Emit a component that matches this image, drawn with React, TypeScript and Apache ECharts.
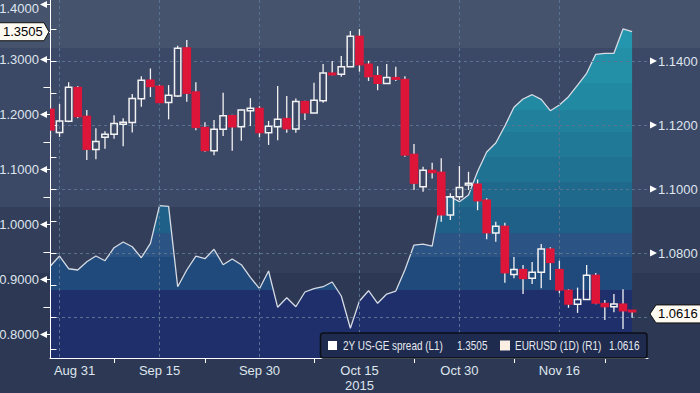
import React, { useEffect, useRef } from 'react';
import * as echarts from 'echarts';

// Business-day index 0 = Aug 28 2015, 1 = Aug 31, ... 64 = Nov 26
const xLabelIdx = [1, 12, 23, 34, 45, 56];
const xLabelText = ['Aug 31', 'Sep 15', 'Sep 30', 'Oct 15', 'Oct 30', 'Nov 16'];
const xMinorTickIdx = [7, 17, 29, 40, 51, 61];
const yearLabel = '2015';

// 2Y US-GE spread (L1)
const spread = [
  0.9245, 0.9427, 0.9196, 0.9173, 0.9324, 0.9427, 0.9342, 0.9578, 0.9682, 0.9596,
  0.9396, 0.9658, 1.0342, 1.0331, 0.8869, 0.9173, 0.9427, 0.9378, 0.9549, 0.9269,
  0.9373, 0.9269, 0.9040, 0.8833, 0.9155, 0.8495, 0.8669, 0.8505, 0.8773, 0.8836,
  0.8869, 0.8955, 0.8700, 0.8113, 0.8609, 0.8796, 0.8567, 0.8736, 0.8791, 0.9173,
  0.9627, 0.9645, 0.9609, 1.0495, 1.0505, 1.0415, 1.0536, 1.0964, 1.1318, 1.1482,
  1.1791, 1.2131, 1.2282, 1.2360, 1.2276, 1.2069, 1.2173, 1.2324, 1.2536, 1.2749,
  1.3095, 1.3113, 1.3113, 1.3555, 1.3505,
];

// EURUSD (1D) (R1)
const eurOpen = [
  1.1250, 1.1177, 1.1212, 1.1318, 1.1228, 1.1124, 1.1162, 1.1171, 1.1203, 1.1208,
  1.1282, 1.1341, 1.1322, 1.1271, 1.1291, 1.1442, 1.1304, 1.1193, 1.1120, 1.1187,
  1.1230, 1.1195, 1.1245, 1.1253, 1.1176, 1.1195, 1.1221, 1.1188, 1.1274, 1.1238,
  1.1276, 1.1363, 1.1359, 1.1382, 1.1478, 1.1391, 1.1355, 1.1330, 1.1349, 1.1343,
  1.1109, 1.1007, 1.1059, 1.1053, 1.0919, 1.0976, 1.1013, 1.1016, 1.0966, 1.0863,
  1.0884, 1.0733, 1.0749, 1.0721, 1.0740, 1.0813, 1.0749, 1.0684, 1.0640, 1.0655,
  1.0731, 1.0643, 1.0632, 1.0641, 1.0622,
];
const eurClose = [
  1.1184, 1.1213, 1.1318, 1.1226, 1.1124, 1.1149, 1.1171, 1.1205, 1.1209, 1.1283,
  1.1340, 1.1320, 1.1270, 1.1293, 1.1440, 1.1299, 1.1192, 1.1120, 1.1187, 1.1229,
  1.1194, 1.1247, 1.1253, 1.1176, 1.1196, 1.1218, 1.1188, 1.1274, 1.1238, 1.1278,
  1.1363, 1.1359, 1.1382, 1.1478, 1.1388, 1.1351, 1.1330, 1.1349, 1.1343, 1.1106,
  1.1018, 1.1059, 1.1051, 1.0919, 1.0976, 1.1005, 1.1018, 1.0963, 1.0863, 1.0884,
  1.0738, 1.0749, 1.0720, 1.0740, 1.0813, 1.0770, 1.0684, 1.0640, 1.0655, 1.0731,
  1.0643, 1.0632, 1.0641, 1.0619, 1.0616,
];
const eurLow = [
  1.1163, 1.1163, 1.1209, 1.1221, 1.1091, 1.1093, 1.1126, 1.1157, 1.1134, 1.1177,
  1.1257, 1.1288, 1.1270, 1.1218, 1.1288, 1.1273, 1.1184, 1.1117, 1.1106, 1.1166,
  1.1120, 1.1151, 1.1197, 1.1162, 1.1138, 1.1153, 1.1176, 1.1176, 1.1216, 1.1238,
  1.1270, 1.1356, 1.1351, 1.1382, 1.1367, 1.1338, 1.1309, 1.1330, 1.1338, 1.1101,
  1.0997, 1.0992, 1.1033, 1.0898, 1.0903, 1.0966, 1.0997, 1.0934, 1.0843, 1.0835,
  1.0707, 1.0721, 1.0672, 1.0703, 1.0690, 1.0716, 1.0674, 1.0629, 1.0613, 1.0655,
  1.0640, 1.0591, 1.0615, 1.0563, 1.0598,
];
const eurHigh = [
  1.1313, 1.1266, 1.1334, 1.1322, 1.1247, 1.1190, 1.1181, 1.1231, 1.1221, 1.1297,
  1.1353, 1.1377, 1.1325, 1.1325, 1.1448, 1.1466, 1.1334, 1.1209, 1.1216, 1.1301,
  1.1232, 1.1249, 1.1284, 1.1259, 1.1213, 1.1322, 1.1291, 1.1283, 1.1276, 1.1332,
  1.1391, 1.1400, 1.1416, 1.1494, 1.1500, 1.1401, 1.1384, 1.1391, 1.1382, 1.1353,
  1.1141, 1.1070, 1.1082, 1.1096, 1.0987, 1.1072, 1.1054, 1.1030, 1.0971, 1.0898,
  1.0895, 1.0788, 1.0763, 1.0772, 1.0828, 1.0818, 1.0776, 1.0687, 1.0692, 1.0763,
  1.0738, 1.0653, 1.0672, 1.0687, 1.0622,
];

const leftLabelVals = [0.8, 0.9, 1.0, 1.1, 1.2, 1.3, 1.4];
const leftTickVals = [0.8, 0.85, 0.9, 0.95, 1.0, 1.05, 1.1, 1.15, 1.2, 1.25, 1.3, 1.35, 1.4];
const rightLabelVals = [1.08, 1.1, 1.12, 1.14];
const rightTickVals = [1.05, 1.06, 1.07, 1.08, 1.09, 1.1, 1.11, 1.12, 1.13, 1.14, 1.15];
const gridVals = [1.06, 1.08, 1.1, 1.12, 1.14];

const spreadName = '2Y US-GE spread (L1)';
const eurName = 'EURUSD (1D) (R1)';
const spreadLast = 1.3505;
const eurLast = 1.0616;

const FONT = "'Liberation Sans', Arial, sans-serif";
const LABEL = '#dfe5ee';
const RED = '#dd1539';
const WHITE = '#f2f2f2';

export default function App() {
  const ref = useRef<HTMLDivElement>(null);
  useEffect(() => {
    if (!ref.current) return;
    const chart = echarts.init(ref.current, null, { renderer: 'svg' });
    const xMin = -0.05;
    const xMax = 65.75;
    const areaStops: [number, string][] = [
      [0, '#2497ae'], [48, '#2390a8'], [83, '#2289a2'], [110, '#21819c'], [132, '#207a97'],
      [157, '#1f7291'], [182, '#1f6a8c'], [207, '#1f6088'], [233, '#2b5484'], [257, '#1f4a7b'],
      [290, '#1e2f6b'], [358, '#1e2f6b'],
    ];
    const colorStops: { offset: number; color: string }[] = [];
    for (let k = 0; k < areaStops.length - 1; k++) {
      colorStops.push({ offset: areaStops[k][0] / 358, color: areaStops[k][1] });
      colorStops.push({ offset: areaStops[k + 1][0] / 358 - 0.0001, color: areaStops[k][1] });
    }
    const candleData = eurOpen.map((o, i) => [i, o, eurClose[i], eurLow[i], eurHigh[i]]);
    const xFmt = (v: number) => {
      const k = xLabelIdx.indexOf(Math.round(v));
      if (k < 0) return '';
      if (k === 0) return '{first|' + xLabelText[k] + '}';
      if (xLabelText[k] === 'Oct 15') return xLabelText[k] + '\n' + yearLabel;
      return xLabelText[k];
    };
    chart.setOption({
      animation: false,
      textStyle: { fontFamily: FONT },
      grid: { left: 50, right: 52, top: 0, bottom: 35, containLabel: false, outerBoundsMode: 'none' },
      xAxis: [
        {
          type: 'value', position: 'bottom', min: xMin, max: xMax, z: 2,
          axisLine: { show: true, onZero: false, lineStyle: { color: '#ffffff', width: 1 } },
          axisTick: { show: false, customValues: xLabelIdx },
          axisLabel: {
            customValues: xLabelIdx, formatter: xFmt, color: LABEL, fontSize: 13, margin: 5,
            fontFamily: FONT, lineHeight: 15,
            rich: { first: { padding: [0, 0, 0, 30], fontSize: 13, color: LABEL, fontFamily: FONT } },
          },
          splitLine: { show: true, lineStyle: { color: '#587391', type: [3, 3], width: 1 } },
        },
        {
          type: 'value', position: 'bottom', min: xMin, max: xMax,
          axisLine: { show: false },
          axisTick: { show: true, customValues: xMinorTickIdx, length: 5, lineStyle: { color: '#ffffff' } },
          axisLabel: { show: false },
          splitLine: { show: false },
        },
      ],
      yAxis: [
        {
          type: 'value', position: 'left', min: 0.7573, max: 1.4082, z: 2,
          axisLine: { show: true, lineStyle: { color: '#ffffff', width: 1 } },
          axisTick: { show: true, customValues: leftTickVals, length: 7, lineStyle: { color: '#ffffff' } },
          axisLabel: {
            customValues: leftLabelVals, color: LABEL, fontSize: 13, margin: 11, fontFamily: FONT,
            formatter: (v: number) => (Math.abs(v - 1.4) < 1e-6 ? '{t|' + v.toFixed(4) + '}' : v.toFixed(4)),
            rich: { t: { padding: [8, 0, 0, 0], fontSize: 13, color: LABEL, fontFamily: FONT } },
          },
          splitLine: { show: false },
        },
        {
          type: 'value', position: 'right', min: 1.0472, max: 1.1591, z: 2,
          axisLine: { show: true, lineStyle: { color: '#ffffff', width: 1 } },
          axisTick: { show: true, customValues: rightTickVals, length: 6, lineStyle: { color: '#ffffff' } },
          axisLabel: {
            customValues: rightLabelVals, color: LABEL, fontSize: 13, margin: 10, fontFamily: FONT,
            formatter: (v: number) => v.toFixed(4),
          },
          splitLine: { show: false },
        },
        {
          type: 'value', position: 'right', min: 1.0472, max: 1.1591, z: 2,
          axisLine: { show: false },
          axisTick: { show: false, customValues: gridVals },
          axisLabel: { show: false },
          splitLine: { show: true, lineStyle: { color: '#587391', type: [3, 3], width: 1 } },
        },
      ],
      series: [
        {
          name: spreadName, type: 'line', xAxisIndex: 0, yAxisIndex: 0, z: 1,
          data: spread.map((v, i) => [i, v]),
          symbol: 'none',
          lineStyle: { color: '#d6dbe4', width: 1.3 },
          areaStyle: { opacity: 1, color: new echarts.graphic.LinearGradient(0, 0, 0, 358, colorStops, true) },
        },
        {
          name: eurName, type: 'custom', xAxisIndex: 0, yAxisIndex: 1, z: 3, clip: true,
          encode: { x: 0, y: [1, 2, 3, 4] },
          data: candleData,
          renderItem: (_p: any, api: any) => {
            const i = api.value(0);
            const o = api.value(1);
            const c = api.value(2);
            const l = api.value(3);
            const h = api.value(4);
            const pO = api.coord([i, o]);
            const pC = api.coord([i, c]);
            const pL = api.coord([i, l]);
            const pH = api.coord([i, h]);
            const slot = api.size([1, 0])[0];
            const x = pO[0];
            const top = Math.min(pO[1], pC[1]);
            const bot = Math.max(pO[1], pC[1]);
            const bull = c >= o;
            const children: any[] = [];
            if (pH[1] < top - 0.5) children.push({ type: 'line', shape: { x1: x, y1: pH[1], x2: x, y2: top }, style: { stroke: WHITE, lineWidth: 1.3 } });
            if (pL[1] > bot + 0.5) children.push({ type: 'line', shape: { x1: x, y1: bot, x2: x, y2: pL[1] }, style: { stroke: WHITE, lineWidth: 1.3 } });
            if (bull) {
              const w = slot * 0.7;
              children.push({ type: 'rect', shape: { x: x - w / 2, y: top, width: w, height: Math.max(bot - top, 1.5) }, style: { fill: 'none', stroke: WHITE, lineWidth: 1.5 } });
            } else {
              const w = slot * 0.95;
              children.push({ type: 'rect', shape: { x: x - w / 2, y: top - 0.5, width: w, height: Math.max(bot - top, 2) + 1 }, style: { fill: RED } });
            }
            return { type: 'group', children };
          },
        },
      ],
    });

    const pyL = (v: number) => chart.convertToPixel({ yAxisIndex: 0 }, v) as number;
    const pyR = (v: number) => chart.convertToPixel({ yAxisIndex: 1 }, v) as number;
    const gx = chart.convertToPixel({ xAxisIndex: 0 }, xMin) as number;
    const gx2 = chart.convertToPixel({ xAxisIndex: 0 }, xMax) as number;
    const graphics: any[] = [];
    leftLabelVals.forEach((v) => {
      const y = pyL(v);
      graphics.push({ type: 'polygon', shape: { points: [[gx - 10, y], [gx - 3, y - 3.5], [gx - 3, y + 3.5]] }, style: { fill: '#ffffff' }, z: 50 });
    });
    rightLabelVals.forEach((v) => {
      const y = pyR(v);
      graphics.push({ type: 'polygon', shape: { points: [[gx2 + 2, y - 3.5], [gx2 + 2, y + 3.5], [gx2 + 9, y]] }, style: { fill: '#ffffff' }, z: 50 });
    });
    const yl = pyL(spreadLast);
    graphics.push({
      type: 'polygon', z: 60,
      shape: { points: [[-1, yl - 9], [gx - 6, yl - 9], [gx - 1, yl], [gx - 6, yl + 9], [-1, yl + 9]] },
      style: { fill: '#fffaf2', stroke: '#111111', lineWidth: 1 },
    });
    graphics.push({
      type: 'text', z: 61, x: 3, y: yl,
      style: { text: spreadLast.toFixed(4), fill: '#000000', font: '13px ' + FONT, verticalAlign: 'middle', align: 'left' },
    });
    const yr = pyR(eurLast) + 2;
    graphics.push({
      type: 'polygon', z: 60,
      shape: { points: [[gx2 + 2, yr], [gx2 + 8, yr - 9], [701, yr - 9], [701, yr + 9], [gx2 + 8, yr + 9]] },
      style: { fill: '#fffaf2', stroke: '#111111', lineWidth: 1 },
    });
    graphics.push({
      type: 'text', z: 61, x: gx2 + 10, y: yr,
      style: { text: eurLast.toFixed(4), fill: '#000000', font: '13px ' + FONT, verticalAlign: 'middle', align: 'left' },
    });
    // legend
    const lgY = 333;
    const lgText = (x: number, text: string) => ({
      type: 'text', z: 71, x, y: lgY + 13, scaleX: 0.83,
      style: { text, fill: '#e6eaf0', font: '12px ' + FONT, verticalAlign: 'middle', align: 'left' },
    });
    graphics.push({
      type: 'rect', z: 70, shape: { x: 320.5, y: lgY, width: 326.5, height: 25, r: 3 },
      style: { fill: '#1f2b4e', stroke: '#0b0f18', lineWidth: 1.5 },
    });
    graphics.push({ type: 'rect', z: 71, shape: { x: 328, y: lgY + 8, width: 9, height: 9 }, style: { fill: '#ffffff' } });
    graphics.push(lgText(343, spreadName));
    graphics.push(lgText(457, spreadLast.toFixed(4)));
    graphics.push({ type: 'rect', z: 71, shape: { x: 500, y: lgY + 7.5, width: 10, height: 10 }, style: { fill: '#fbeee3' } });
    graphics.push(lgText(515, eurName));
    graphics.push(lgText(609, eurLast.toFixed(4)));
    chart.setOption({ graphic: graphics });

    return () => chart.dispose();
  }, []);

  return (
    <div
      ref={ref}
      style={{
        position: 'fixed', left: 0, top: 0, width: 700, height: 393,
        background:
          'linear-gradient(to bottom, #45536d 0px, #45536d 48px, #3b4866 48px, #3b4866 207px, #333f5a 207px, #333f5a 273px, #2d3954 273px, #2d3954 393px)',
      }}
    />
  );
}
